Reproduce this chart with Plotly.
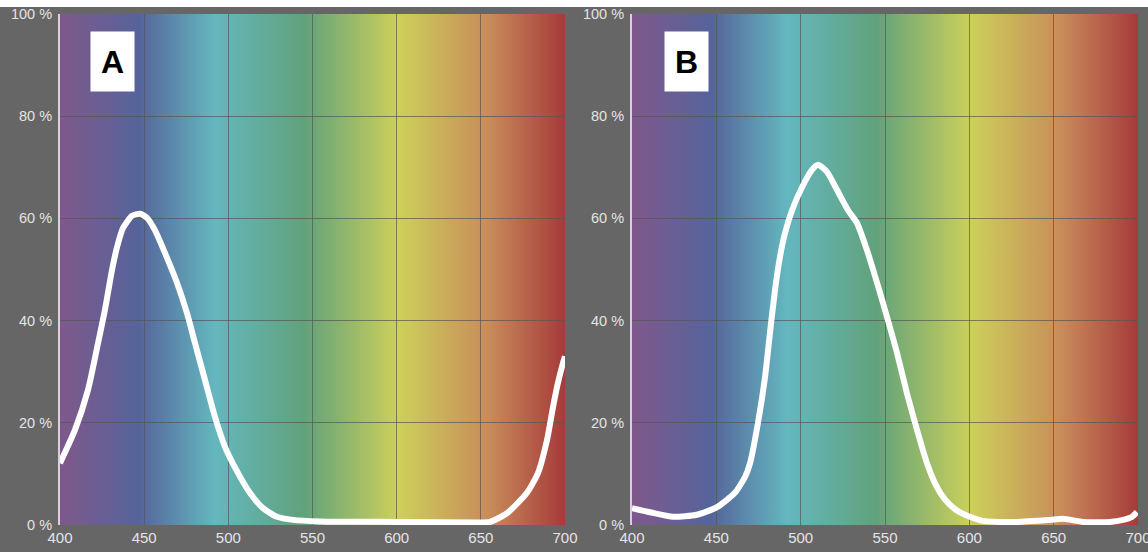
import base64
import plotly.graph_objects as go

# ---------------- data ----------------
wl_a = [400, 408.9, 416.6, 422.6, 426.7, 430.9, 433.9, 437.4, 442.8, 447.5, 451.7, 456.4,
        462.4, 469.5, 475.4, 480.2, 486.1, 492.1, 498.0, 505.7, 513, 520.6, 528.9, 538.4,
        554.5, 602, 649.5, 655.4, 665.5, 677.4, 684.0, 689.3, 692.9, 695.8, 698.8, 700]
val_a = [12.1, 18.6, 26.4, 35.6, 42.1, 49.9, 54.4, 58.1, 60.5, 60.9, 60.1, 57.7,
         53.2, 47.4, 41.5, 35.6, 28.4, 21.1, 15.3, 10.2, 6.2, 3.3, 1.6, 1.0,
         0.7, 0.6, 0.5, 0.6, 2.3, 6.3, 10.2, 16.6, 23.1, 27.8, 31.7, 33]

wl_b = [400, 410.7, 424.3, 438.5, 450.4, 461, 467.0, 470.0, 474.7, 478.9, 481.8, 484.8,
        487.7, 490.7, 494.9, 500.8, 506.7, 510.3, 515.6, 521.5, 528.1, 533.4, 539.3,
        545.3, 551.2, 557.1, 563.0, 569.0, 574.9, 580.5, 585.5, 592, 600.4, 608.1, 628.3,
        647.8, 655.5, 667.4, 683.4, 691.1, 696.4, 699.4]
val_b = [3.3, 2.5, 1.6, 2.0, 3.5, 6.3, 9.4, 12.1, 20.0, 29.0, 37.6, 46.0,
         52.4, 57.1, 61.6, 66.1, 69.5, 70.5, 69.1, 65.6, 61.6, 59.1, 53.8,
         47.4, 40.7, 33.7, 25.8, 18.6, 12.1, 7.6, 5.0, 3.0, 1.6, 0.8, 0.6,
         1.0, 1.2, 0.6, 0.6, 1.0, 1.6, 2.5]

grad_wl = [400, 447, 492, 545, 601, 655, 700]
grad_col = ["#7f588b", "#55649b", "#64b7bf", "#61a27b", "#cdd05a", "#c88b5b", "#a63a3a"]

x_ticks = [400, 450, 500, 550, 600, 650, 700]
y_ticks = [0, 20, 40, 60, 80, 100]
y_tick_text = [f"{v} %" for v in y_ticks]
panel_labels = ["A", "B"]

# ---------------- styling ----------------
BG = "#666666"
TXT = "#e4e4e4"
W, H = 1148, 552
T, B = 14, 27
domains = [[60 / W, 565 / W], [632 / W, 1138 / W]]
label_centers = [112.5, 686.5]

# spectrum gradient as an svg image
stops = "".join(
    f'<stop offset="{(w - 400) / 300:.4f}" stop-color="{c}"/>' for w, c in zip(grad_wl, grad_col)
)
svg = (
    '<svg xmlns="http://www.w3.org/2000/svg" width="300" height="100" viewBox="0 0 300 100" '
    'preserveAspectRatio="none"><defs><linearGradient id="g" x1="0" y1="0" x2="1" y2="0">'
    + stops + '</linearGradient></defs><rect x="0" y="0" width="300" height="100" fill="url(#g)"/></svg>'
)
src = "data:image/svg+xml;base64," + base64.b64encode(svg.encode()).decode()

fig = go.Figure()
series = [(wl_a, val_a), (wl_b, val_b)]
images = []
annotations = []
for i, (xs, ys) in enumerate(series):
    sx = "" if i == 0 else str(i + 1)
    fig.add_trace(go.Scatter(
        x=xs, y=ys, mode="lines", xaxis="x" + sx, yaxis="y" + sx,
        line=dict(color="white", width=6, shape="spline", smoothing=0.6),
        showlegend=False, hoverinfo="skip"))
    images.append(dict(source=src, xref="x" + sx, yref="y" + sx, x=400, y=100,
                       sizex=300, sizey=100, sizing="stretch", layer="below",
                       xanchor="left", yanchor="top"))
    d0, d1 = domains[i][0] * W, domains[i][1] * W
    annotations.append(dict(
        text="<b>%s</b>" % panel_labels[i], xref="x" + sx + " domain", yref="y" + sx + " domain",
        x=(label_centers[i] - d0) / (d1 - d0),
        y=(525 - 61.5) / (525 - 14), xanchor="center", yanchor="middle",
        showarrow=False, bgcolor="white", width=43, height=59, borderpad=0,
        font=dict(family="Liberation Sans, Arial, sans-serif", size=32, color="black")))

axis_common = dict(showgrid=True, gridcolor="rgba(85,85,85,0.7)", gridwidth=1,
                   zeroline=False, automargin=False)
layout = dict(
    width=W, height=H, paper_bgcolor=BG, plot_bgcolor="rgba(0,0,0,0)",
    margin=dict(l=0, r=0, t=T, b=B, pad=0, autoexpand=False),
    font=dict(family="Liberation Sans, Arial, sans-serif", color=TXT, size=14),
    images=images, annotations=annotations,
    shapes=[dict(type="rect", xref="paper", yref="paper", x0=-0.2, x1=1.2,
                 y0=1 + 7 / (525 - 14), y1=1 + 20 / (525 - 14),
                 fillcolor="white", line=dict(width=0), layer="above")],
)
for i in range(2):
    sx = "" if i == 0 else str(i + 1)
    layout["xaxis" + sx] = dict(domain=domains[i], range=[400, 700], tickvals=x_ticks,
                                ticks="", anchor="y" + sx, tickfont=dict(size=15, color=TXT),
                                ticklabelstandoff=2, ticklabeloverflow="allow", **axis_common)
    layout["yaxis" + sx] = dict(domain=[0, 1], range=[0, 100], tickvals=y_ticks,
                                ticktext=y_tick_text, ticks="", anchor="x" + sx,
                                tickfont=dict(size=14.5, color=TXT),
                                showline=True, linecolor="#dccfe3", linewidth=2,
                                ticklabelstandoff=3, ticklabeloverflow="allow", **axis_common)
fig.update_layout(**layout)
fig.write_html("out.html", config={"displayModeBar": False},
               post_script="document.body.style.margin='0';")
